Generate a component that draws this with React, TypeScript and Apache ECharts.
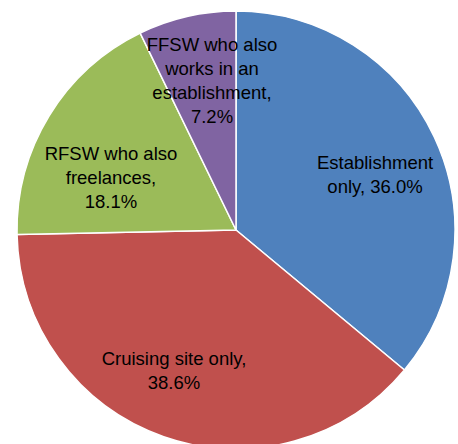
import React, { useEffect, useRef } from "react";
import * as echarts from "echarts";

const categories = [
  "Establishment only",
  "Cruising site only",
  "RFSW who also freelances",
  "FFSW who also works in an establishment",
];
const labelTexts = [
  "Establishment\nonly",
  "Cruising site only",
  "RFSW who also\nfreelances",
  "FFSW who also\nworks in an\nestablishment",
];
const percentOnNewLine = [false, true, true, true];
const values = [36.0, 38.6, 18.1, 7.2];
const colors = ["#4F81BD", "#C0504D", "#9BBB59", "#8064A2"];
const labelCenters = [
  [375, 174],
  [174, 370],
  [111, 177],
  [212, 80],
];

export default function App() {
  const ref = useRef<HTMLDivElement>(null);
  useEffect(() => {
    document.body.style.margin = "0";
    const chart = echarts.init(ref.current!, null, { renderer: "svg" });
    chart.setOption({
      animation: false,
      backgroundColor: "#ffffff",
      series: [
        {
          type: "pie",
          center: [236, 230],
          radius: [0, 219],
          startAngle: 90,
          clockwise: true,
          avoidLabelOverlap: false,
          labelLine: { show: false },
          itemStyle: { borderColor: "#ffffff", borderWidth: 1.5 },
          label: {
            show: true,
            position: "inside",
            color: "#000000",
            fontFamily: "'Liberation Sans Narrow', 'Arial Narrow', 'Liberation Sans', Arial, sans-serif",
            fontSize: 18.5,
            lineHeight: 24,
            align: "center",
            formatter: (p: any) =>
              labelTexts[p.dataIndex] +
              "," +
              (percentOnNewLine[p.dataIndex] ? "\n" : " ") +
              values[p.dataIndex].toFixed(1) +
              "%",
          },
          labelLayout: (p: any) => ({
            x: labelCenters[p.dataIndex][0],
            y: labelCenters[p.dataIndex][1],
            align: "center",
            verticalAlign: "middle",
          }),
          data: categories.map((name, i) => ({
            name,
            value: values[i],
            itemStyle: { color: colors[i] },
          })),
        },
      ],
    });
    return () => chart.dispose();
  }, []);
  return <div ref={ref} style={{ width: 458, height: 444 }} />;
}
